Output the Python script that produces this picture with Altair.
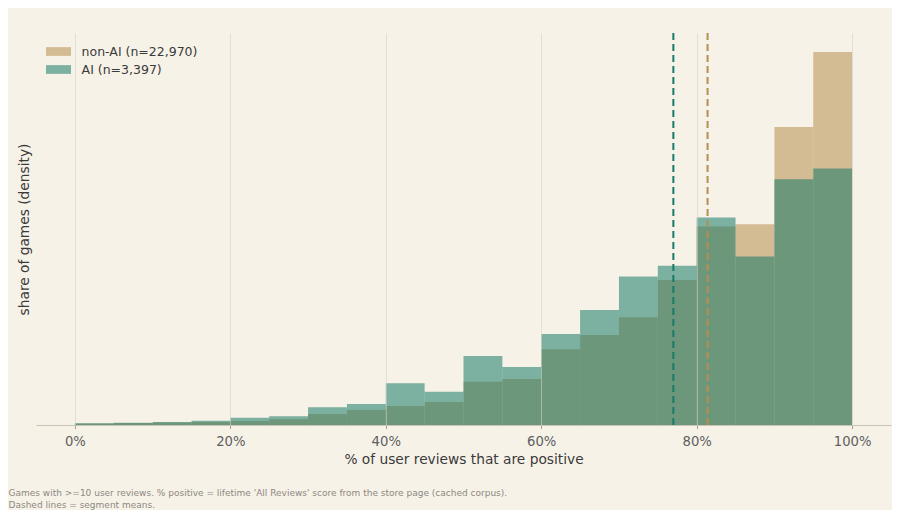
import altair as alt
import pandas as pd

# ---- data ----
bin_starts = list(range(0, 100, 5))
bin_width = 5
groups = ["non-AI (n=22,970)", "AI (n=3,397)"]
nonai_density = [0.00018, 0.00024, 0.00030, 0.00036, 0.00048, 0.00069, 0.00133, 0.00181,
                 0.00229, 0.00277, 0.00522, 0.00554, 0.00912, 0.01084, 0.01298, 0.01747,
                 0.02389, 0.02418, 0.03587, 0.04490]
ai_density = [0.00020, 0.00028, 0.00036, 0.00052, 0.00088, 0.00105, 0.00213, 0.00253,
              0.00502, 0.00401, 0.00831, 0.00699, 0.01096, 0.01386, 0.01787, 0.01919,
              0.02498, 0.02028, 0.02960, 0.03088]
group_means = [81.4, 77.0]
tick_values = [0, 20, 40, 60, 80, 100]

title_text = "Review score: AI games rate lower\u00a0 (mean 77% vs 81%)"
footer_text = ("Games with >=10 user reviews. % positive = lifetime 'All Reviews' score from the store page (cached corpus).\n"
               "Dashed lines = segment means.")

# ---- style ----
bar_colors = ["#b68e4e", "#177a66"]
line_colors = ["#b68e4e", "#1a7a68"]
bg = "#f7f2e8"
FONT = "DejaVu Sans"

rows = []
for g, dens in zip(groups, [nonai_density, ai_density]):
    for s, d in zip(bin_starts, dens):
        rows.append({"group": g, "start": s, "end": s + bin_width, "density": d})
bars_df = pd.DataFrame(rows)

means_df = pd.DataFrame({"group": groups, "mean": group_means, "color": line_colors})
footer_df = pd.DataFrame({"t": [footer_text]})

x_title = "% of user reviews that are positive"
x_scale = alt.Scale(domain=[-5, 105], nice=False, zero=False)
y_scale = alt.Scale(domain=[0, 0.0472], nice=False)

bars = alt.Chart(bars_df).mark_rect(opacity=0.55, strokeWidth=0).encode(
    x=alt.X("start:Q", scale=x_scale, title=x_title,
            axis=alt.Axis(values=tick_values, labelExpr="datum.value + '%'", grid=True,
                          gridColor="#d6cfc2", gridOpacity=0.55, gridWidth=1,
                          domainColor="#cbc3b6", domainWidth=1,
                          tickColor="#a39c92", tickSize=3.5, tickWidth=1,
                          labelFontSize=13.2, labelColor="#5e5e5e", labelPadding=6.7,
                          titleFontSize=13.75, titleColor="#3a3a3a", titleFontWeight="normal",
                          titlePadding=5, zindex=1)),
    x2="end:Q",
    y=alt.Y("density:Q", scale=y_scale, title="share of games (density)",
            axis=alt.Axis(labels=False, ticks=False, domain=False, grid=False,
                          titleFontSize=13.75, titleColor="#3a3a3a", titleFontWeight="normal",
                          titlePadding=5)),
    y2=alt.datum(0),
    color=alt.Color("group:N", scale=alt.Scale(domain=groups, range=bar_colors),
                    legend=alt.Legend(title=None, orient="none", legendX=13.0, legendY=9.0,
                                      symbolType="M-1.316,-0.46H1.316V0.46H-1.316Z",
                                      symbolSize=361, symbolOpacity=0.55, symbolStrokeWidth=0,
                                      labelFontSize=12.5, labelColor="#3a3a3a", labelOffset=13.6,
                                      rowPadding=2, padding=0, labelFont=FONT)),
)

rules = alt.Chart(means_df).mark_rule(strokeDash=[7, 4], strokeWidth=2).encode(
    x=alt.X("mean:Q", title=x_title),
    color=alt.Color("color:N", scale=None),
)

footer = alt.Chart(footer_df).mark_text(
    align="left", baseline="middle", fontSize=9.0, color="#8d8882",
    lineBreak="\n", lineHeight=11.5, font=FONT,
).encode(x=alt.value(-27.5), y=alt.value(460), text="t:N")

chart = alt.layer(bars, rules, footer).properties(
    width=855, height=392,
    background=bg,
    padding={"left": 28, "top": 25, "right": 1, "bottom": 85},
    autosize=alt.AutoSizeParams(type="none"),
    title=alt.TitleParams(title_text, anchor="start", fontSize=15, font=FONT,
                          fontWeight="normal", color="#3a3a3a", offset=12,
                          baseline="alphabetic"),
).configure(font=FONT).configure_view(stroke=None)

chart.save("out.html", embed_options={"renderer": "svg", "actions": False})
